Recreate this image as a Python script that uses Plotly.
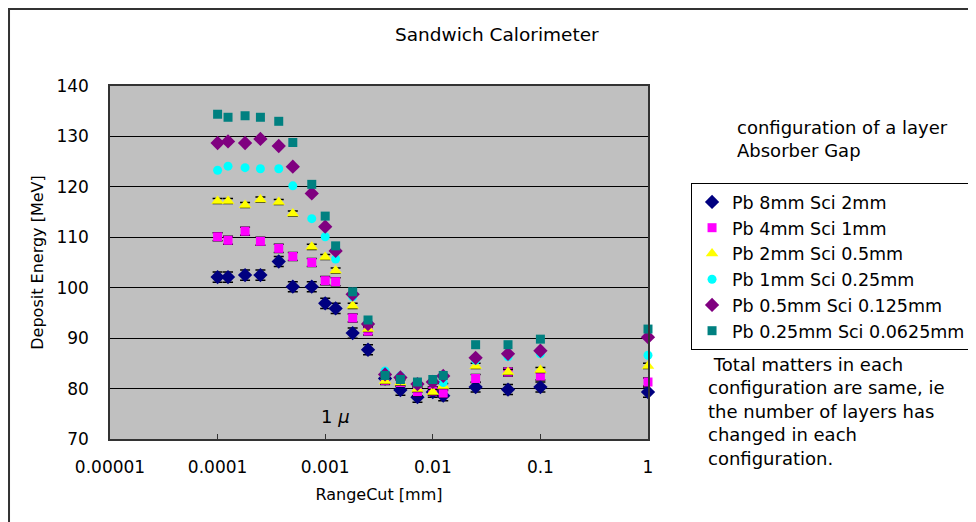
import plotly.graph_objects as go

# range cut values [mm]
range_cut = [0.0001, 0.000125, 0.00018, 0.00025, 0.00037, 0.0005, 0.00075, 0.001,
             0.00125, 0.0018, 0.0025, 0.0036, 0.005, 0.0072, 0.01, 0.0125,
             0.025, 0.05, 0.1, 1]

# deposit energy [MeV] per configuration
pb8_sci2 = [102.1, 102.1, 102.5, 102.5, 105.2, 100.2, 100.2, 96.9, 95.9, 91.0,
            87.7, 82.0, 79.7, 78.3, 79.3, 78.6, 80.3, 79.8, 80.3, 79.3]
pb4_sci1 = [110.1, 109.4, 111.2, 109.2, 107.8, 106.2, 105.0, 101.4, 101.2, 94.0,
            91.4, 81.6, 81.2, 79.4, 79.5, 79.1, 82.0, 83.3, 82.5, 81.3]
pb2_sci05 = [117.2, 117.2, 116.4, 117.5, 117.0, 114.7, 108.1, 106.1, 103.4, 96.4,
             91.8, 81.5, 81.2, 79.9, 79.3, 80.5, 84.5, 83.3, 83.7, 84.5]
pb1_sci025 = [123.3, 124.1, 123.8, 123.6, 123.6, 120.2, 113.7, 110.1, 105.7, 98.2,
              93.3, 83.5, 82.5, 80.7, 81.2, 81.2, 85.6, 86.3, 86.9, 86.6]
pb05_sci0125 = [128.7, 129.0, 128.7, 129.5, 128.1, 124.0, 118.7, 112.1, 107.3, 98.7,
                92.8, 82.8, 82.2, 80.9, 81.3, 82.5, 86.1, 86.9, 87.5, 90.2]
pb025_sci00625 = [134.4, 133.8, 134.1, 133.8, 133.0, 128.8, 120.5, 114.2, 108.3, 99.2,
                  93.6, 82.6, 81.8, 81.3, 81.8, 82.6, 88.7, 88.7, 89.8, 91.8]

# statistical errors (approx.)
err_pb8 = 1.0
err_pb4 = 0.8
err_pb2 = 0.5

x_ticks = [0.00001, 0.0001, 0.001, 0.01, 0.1, 1]
x_ticktext = ["0.00001", "0.0001", "0.001", "0.01", "0.1", "1"]

series = [
    ("Pb 8mm Sci 2mm", pb8_sci2, "#000080", "diamond", 11, err_pb8),
    ("Pb 4mm Sci 1mm", pb4_sci1, "#FF00FF", "square", 9, err_pb4),
    ("Pb 2mm Sci 0.5mm", pb2_sci05, "#FFFF00", "triangle-up", 11, err_pb2),
    ("Pb 1mm Sci 0.25mm", pb1_sci025, "#00FFFF", "circle", 9, None),
    ("Pb 0.5mm Sci 0.125mm", pb05_sci0125, "#800080", "diamond", 11, None),
    ("Pb 0.25mm Sci 0.0625mm", pb025_sci00625, "#008080", "square", 9, None),
]

font = "DejaVu Sans"

fig = go.Figure()
for name, vals, color, symbol, size, err in series:
    fig.add_trace(go.Scatter(
        x=range_cut, y=vals, name=name, mode="markers",
        marker=dict(color=color, symbol=symbol, size=size),
        error_y=dict(type="constant", value=err, color="black", thickness=1.5, width=5)
        if err else None,
        cliponaxis=False,
    ))

# page body has an 8px margin, so the figure is 8px smaller than the window
fig.update_layout(
    width=968, height=514,
    margin=dict(l=102, r=328, t=78, b=83, autoexpand=False),
    paper_bgcolor="white",
    plot_bgcolor="#C0C0C0",
    font=dict(family=font, size=17, color="black"),
    title=dict(text="Sandwich Calorimeter", x=0.505, xanchor="center",
               y=0.9475, yanchor="middle", font=dict(size=18.5)),
    legend=dict(x=1.080, y=0.725, xanchor="left", yanchor="top",
                bordercolor="black", borderwidth=1, bgcolor="white",
                font=dict(size=17.5), itemwidth=30, tracegroupgap=0),
    showlegend=True,
)

fig.update_xaxes(
    type="log", range=[-5, 0],
    tickvals=x_ticks, ticktext=x_ticktext,
    ticks="inside", ticklen=5, tickcolor="#333",
    showgrid=False, showline=True, linecolor="#333", linewidth=1.5, mirror=True,
    ticklabelstandoff=12, automargin=False,
    title=dict(text="RangeCut [mm]", font=dict(size=16), standoff=13),
)
fig.update_yaxes(
    range=[70, 140], dtick=10,
    showgrid=True, gridcolor="black", gridwidth=1,
    showline=True, linecolor="#333", linewidth=1.5, mirror=True,
    ticks="", ticklabelstandoff=16, zeroline=False, automargin=False,
    title=dict(text="Deposit Energy [MeV]", font=dict(size=16), standoff=9),
)

fig.add_annotation(
    text="configuration of a layer<br>Absorber Gap",
    xref="paper", yref="paper", x=1.1617, y=0.851,
    xanchor="left", yanchor="middle", align="left", showarrow=False,
    font=dict(size=18),
)
fig.add_annotation(
    text="&nbsp;Total matters in each<br>configuration are same, ie<br>"
         "the number of layers has<br>changed in each<br>configuration.",
    xref="paper", yref="paper", x=1.1078, y=0.0793,
    xanchor="left", yanchor="middle", align="left", showarrow=False,
    font=dict(size=18),
)
fig.add_annotation(
    text="1 <i>μ</i>", xref="x", yref="y", x=-3.055, y=74.5,
    xanchor="left", yanchor="middle", showarrow=False, font=dict(size=18),
)

# chart frame
fig.add_shape(type="rect", xref="paper", yref="paper",
              x0=-0.1877, x1=1.7, y0=-0.4, y1=1.218,
              line=dict(color="#333", width=2), layer="below")

fig.write_html("out.html")
